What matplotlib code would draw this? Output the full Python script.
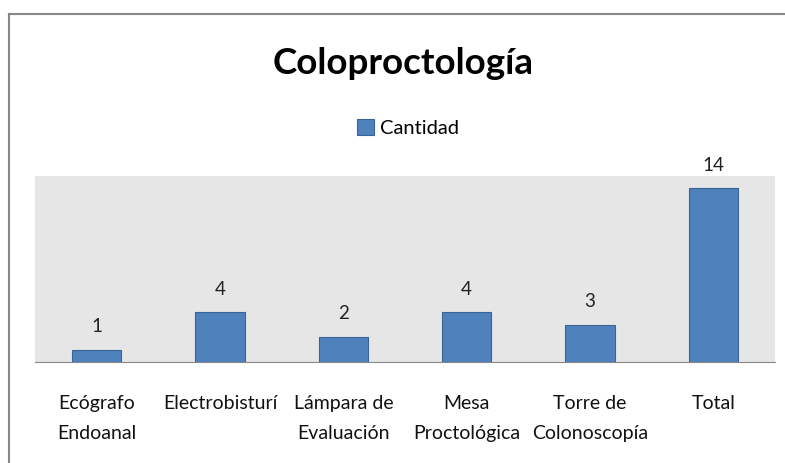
import matplotlib.pyplot as plt
from matplotlib.lines import Line2D

categories = ['Ecógrafo\nEndoanal', 'Electrobisturí', 'Lámpara de\nEvaluación',
              'Mesa\nProctológica', 'Torre de\nColonoscopía', 'Total']
cantidad = [1, 4, 2, 4, 3, 14]

plt.rcParams['font.family'] = ['Lato', 'DejaVu Sans']

fig = plt.figure(figsize=(7.85, 4.63), dpi=100)
ax = fig.add_axes([35 / 785, 1 - 362 / 463, 740 / 785, 186 / 463])

x = range(len(categories))
bars = ax.bar(x, cantidad, width=0.4, color='#4F81BD', edgecolor='#3A6496',
              linewidth=0.8, label='Cantidad', zorder=2)
for xi, v in zip(x, cantidad):
    ax.text(xi, v + 1.2, str(v), ha='center', va='bottom', fontsize=13.5,
            color='#222222')

ax.set_facecolor('#E6E6E6')
ax.set_xlim(-0.5, len(categories) - 0.5)
ax.set_ylim(0, 15)
ax.set_yticks([])
ax.set_xticks(list(x))
ax.set_xticklabels(categories, fontsize=14, color='#111111', linespacing=1.9)
ax.tick_params(axis='x', length=0, pad=24)
for side in ['top', 'right', 'left']:
    ax.spines[side].set_visible(False)
ax.spines['bottom'].set_color('#888888')

fig.text(0.513, 1 - 63 / 463, 'Coloproctología', ha='center', va='center',
         fontsize=26.5, fontweight='bold', color='black')
fig.legend(handles=[bars], labels=['Cantidad'], loc='center',
           bbox_to_anchor=(408 / 785, 1 - 128 / 463), frameon=False,
           fontsize=14.5, handlelength=0.8, handleheight=0.8, handletextpad=0.3)

# chart border (only left and top edges visible)
fig.add_artist(Line2D([8.5 / 785, 8.5 / 785], [0, 1 - 14 / 463],
                      transform=fig.transFigure, color='#888888', lw=1.5))
fig.add_artist(Line2D([8.5 / 785, 1], [1 - 14 / 463, 1 - 14 / 463],
                      transform=fig.transFigure, color='#888888', lw=1.5))

fig.savefig('out.png', dpi=100)
